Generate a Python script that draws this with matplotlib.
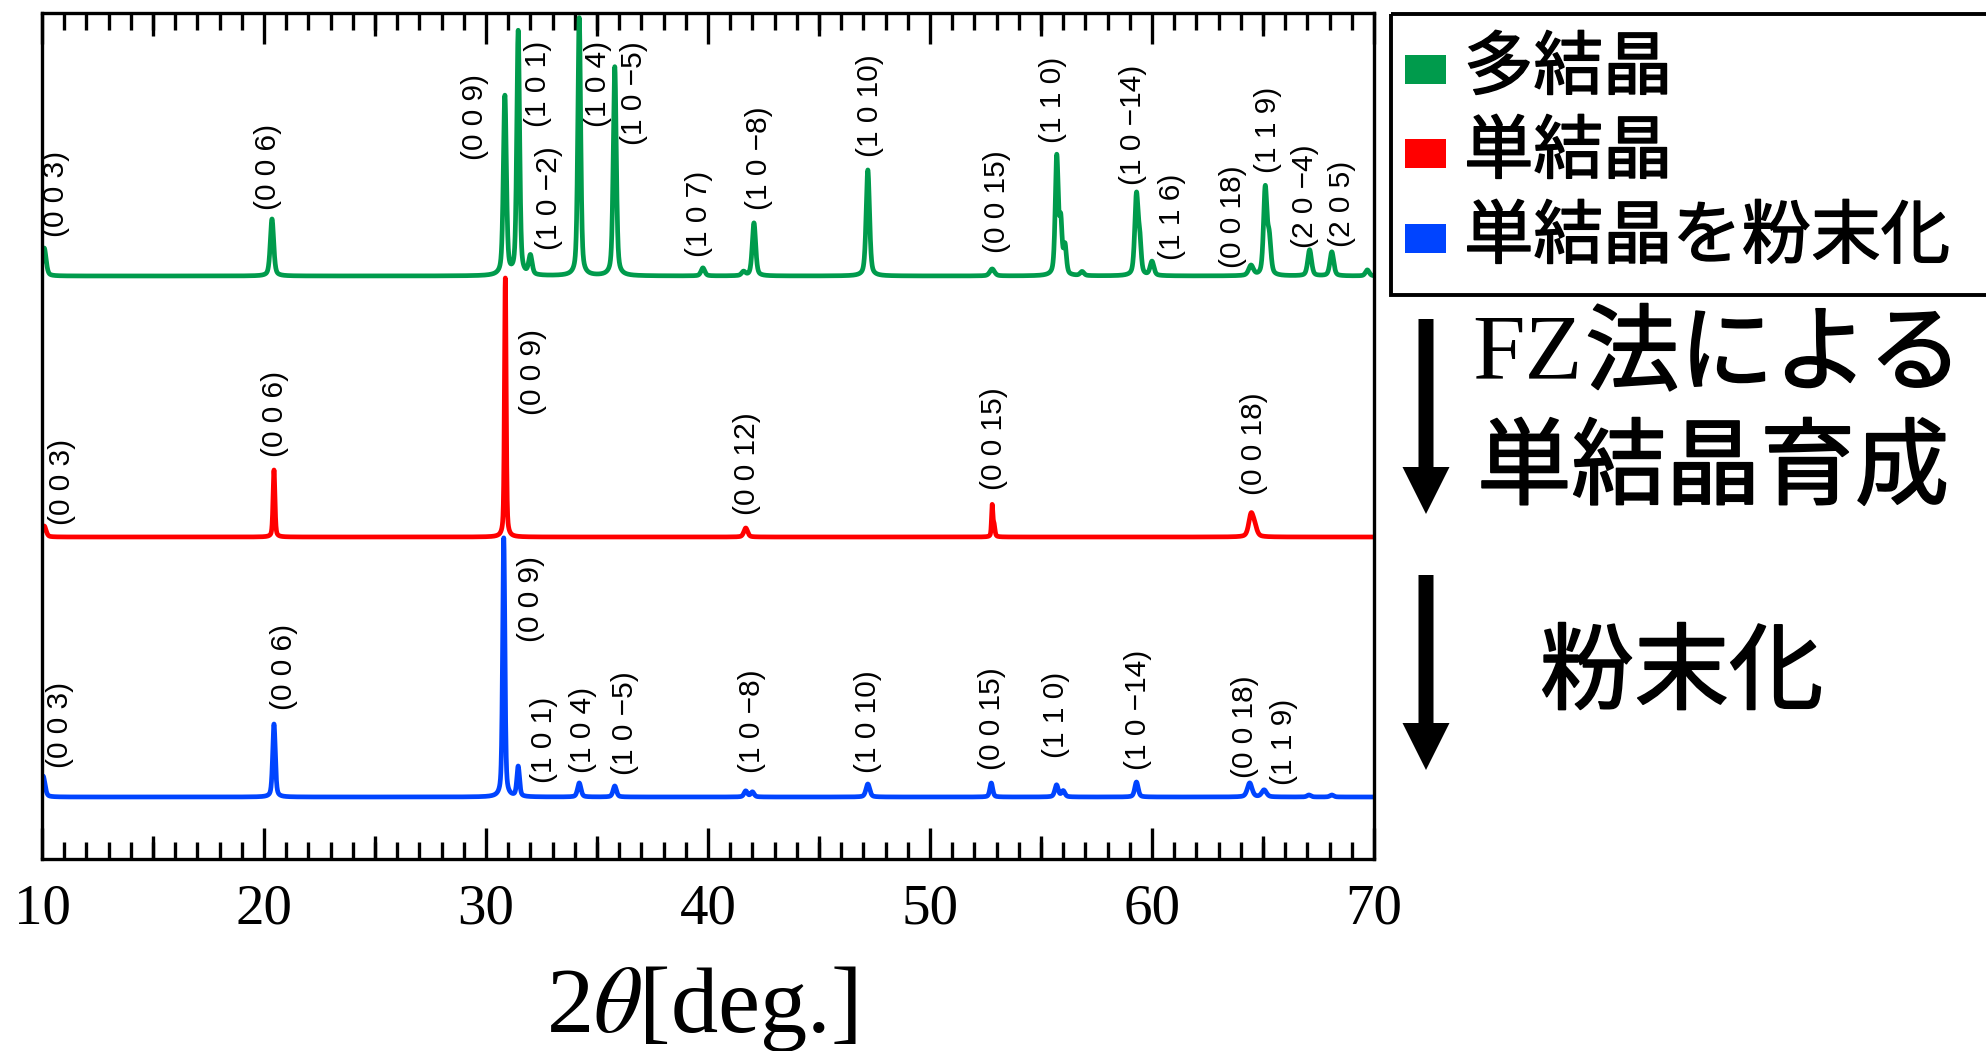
import numpy as np
import matplotlib
matplotlib.use('Agg')
import matplotlib.pyplot as plt
import matplotlib.patheffects as pe
from matplotlib.patches import Rectangle, FancyArrow
from matplotlib.ticker import MultipleLocator

plt.rcParams['font.family'] = ['Liberation Serif', 'Noto Sans CJK JP']
plt.rcParams['mathtext.fontset'] = 'stix'

# ---- data (2theta in deg, heights in px above each baseline) ----
poly_pos = [10.1, 20.36, 30.85, 31.45, 32.0, 34.2, 35.8, 39.77, 41.6, 42.07, 47.2, 52.8,
            55.71, 55.89, 56.08, 56.85, 59.3, 59.45, 60.0, 64.46, 65.1, 65.28, 67.1, 68.1, 69.7]
poly_hgt = [28, 57, 179, 244, 19, 258, 209, 8, 4, 53, 106, 7,
            118, 50, 28, 4, 80, 30, 14, 10, 86, 35, 26, 24, 6]
poly_fw = [0.2, 0.18, 0.16, 0.15, 0.18, 0.15, 0.16, 0.2, 0.2, 0.18, 0.18, 0.25,
           0.16, 0.14, 0.15, 0.2, 0.18, 0.15, 0.2, 0.25, 0.18, 0.18, 0.2, 0.2, 0.2]

single_pos = [10.1, 20.45, 30.87, 41.7, 52.8, 52.88, 64.46, 64.62]
single_hgt = [11, 67, 259, 9, 30, 12, 21, 9]
single_fw = [0.2, 0.1, 0.09, 0.2, 0.07, 0.1, 0.25, 0.25]

powder_pos = [10.05, 20.45, 30.8, 31.45, 34.2, 35.8, 41.7, 42.0, 47.2, 52.76,
              55.7, 56.0, 59.3, 64.4, 65.05, 67.07, 68.1]
powder_hgt = [21, 73, 259, 30, 14, 11, 6, 5, 13, 14, 12, 6, 15, 14, 7, 2, 2]
powder_fw = [0.2, 0.14, 0.12, 0.14, 0.18, 0.18, 0.18, 0.18, 0.2, 0.15,
             0.18, 0.18, 0.18, 0.25, 0.25, 0.2, 0.2]

base_poly, base_single, base_powder = 583, 322, 62

poly_lab = ['(0 0 3)', '(0 0 6)', '(0 0 9)', '(1 0 1)', '(1 0 \u22122)', '(1 0 4)', '(1 0 \u22125)',
            '(1 0 7)', '(1 0 \u22128)', '(1 0 10)', '(0 0 15)', '(1 1 0)', '(1 0 \u221214)',
            '(1 1 6)', '(0 0 18)', '(1 1 9)', '(2 0 \u22124)', '(2 0 5)']
poly_lab_x = [10.63, 20.18, 29.5, 32.34, 32.84, 35.05, 36.66, 39.6, 42.3, 47.3, 53.0, 55.55,
              59.14, 60.9, 63.65, 65.23, 66.9, 68.56]
poly_lab_y = [622, 649, 699, 732, 609, 732, 714, 602, 649, 702, 606, 716, 674, 599, 591, 686, 611, 612]

single_lab = ['(0 0 3)', '(0 0 6)', '(0 0 9)', '(0 0 12)', '(0 0 15)', '(0 0 18)']
single_lab_x = [10.92, 20.5, 32.1, 41.75, 52.9, 64.6]
single_lab_y = [334, 402, 444, 344, 369, 364]

powder_lab = ['(0 0 3)', '(0 0 6)', '(0 0 9)', '(1 0 1)', '(1 0 4)', '(1 0 \u22125)', '(1 0 \u22128)',
              '(1 0 10)', '(0 0 15)', '(1 1 0)', '(1 0 \u221214)', '(0 0 18)', '(1 1 9)']
powder_lab_x = [10.8, 20.88, 32.03, 32.6, 34.35, 36.26, 41.98, 47.2, 52.8, 55.66, 59.37, 64.2, 65.94]
powder_lab_y = [91, 149, 217, 76, 86, 84, 86, 86, 89, 101, 89, 81, 74]

legend_names = ['多結晶', '単結晶', '単結晶を粉末化']
colors = ['#009b4c', '#ff0000', '#0044ff']


def pattern(x, pos, hgt, fw, eta=0.45):
    y = np.zeros_like(x)
    for p, h, w in zip(pos, hgt, fw):
        d = (x - p) / (w / 2)
        y += h * (eta / (1 + d**2) + (1 - eta) * np.exp(-np.log(2) * d**2))
    return y


W, H = 1986, 1051
fig = plt.figure(figsize=(W / 100, H / 100), dpi=100)
ax = fig.add_axes([42 / W, (H - 859) / H, (1374 - 42) / W, (859 - 13) / H])

x = np.linspace(10, 70, 12001)
series = [(poly_pos, poly_hgt, poly_fw, base_poly, poly_lab, poly_lab_x, poly_lab_y),
          (single_pos, single_hgt, single_fw, base_single, single_lab, single_lab_x, single_lab_y),
          (powder_pos, powder_hgt, powder_fw, base_powder, powder_lab, powder_lab_x, powder_lab_y)]
for (pos, hgt, fw, base, labs, lx, ly), c in zip(series, colors):
    ax.plot(x, base + pattern(x, pos, hgt, fw), color=c, lw=3.4, solid_joinstyle='round')
    for t, xx, yy in zip(labs, lx, ly):
        ax.text(xx, yy, t, rotation=90, ha='center', va='bottom', fontsize=21.5,
                family='Liberation Sans')

ax.set_xlim(10, 70)
ax.set_ylim(0, 846)
ax.set_yticks([])
ax.xaxis.set_major_locator(MultipleLocator(10))
ax.xaxis.set_minor_locator(MultipleLocator(1))
ax.tick_params(axis='x', which='both', direction='in', top=True, bottom=True, width=2.4)
ax.tick_params(axis='x', which='major', length=22.3, labelsize=41, pad=18)
ax.tick_params(axis='x', which='minor', length=12.2)
for s in ax.spines.values():
    s.set_linewidth(2.4)
# medium ticks at 15, 25, ...
mid = np.arange(15, 70, 10)
tl = 23 / 846
ax.vlines(mid, 0, tl, transform=ax.get_xaxis_transform(), color='k', lw=2.4)
ax.vlines(mid, 1 - tl, 1, transform=ax.get_xaxis_transform(), color='k', lw=2.4)

# overlay in pixel coordinates for legend, arrows and side texts
ov = fig.add_axes([0, 0, 1, 1])
ov.set_xlim(0, W)
ov.set_ylim(H, 0)
ov.axis('off')

thick = [pe.withStroke(linewidth=1.1, foreground='k')]
thick2 = [pe.withStroke(linewidth=1.3, foreground='k')]
cjk = ['Noto Sans CJK JP']

ov.add_patch(Rectangle((1391, 14), 700, 281, fill=False, lw=2.8, ec='k'))
for i, (name, c) in enumerate(zip(legend_names, colors)):
    yc = [69, 153, 238][i]
    ov.add_patch(Rectangle((1405, yc - 14.5), 41, 29, color=c, lw=0))
    ov.text(1464, yc, name, va='center', ha='left', fontsize=50,
            family=cjk, path_effects=thick)

for top in [319, 575]:
    ov.add_patch(FancyArrow(1426, top, 0, 195, width=15, head_width=47, head_length=47,
                            length_includes_head=True, color='k', lw=0))

ov.text(1472, 356, 'FZ', va='center', ha='left', fontsize=68, family='Liberation Serif')
ov.text(1585, 356, '法による', va='center', ha='left', fontsize=68,
        family=cjk, path_effects=thick2)
ov.text(1477, 470, '単結晶育成', va='center', ha='left', fontsize=68,
        family=cjk, path_effects=thick2)
ov.text(1540, 675, '粉末化', va='center', ha='left', fontsize=68,
        family=cjk, path_effects=thick2)

ov.text(701, 1032, '2$\\theta$[deg.]', ha='center', va='baseline', fontsize=68,
        family='Liberation Serif')

fig.savefig('out.png', dpi=100)
